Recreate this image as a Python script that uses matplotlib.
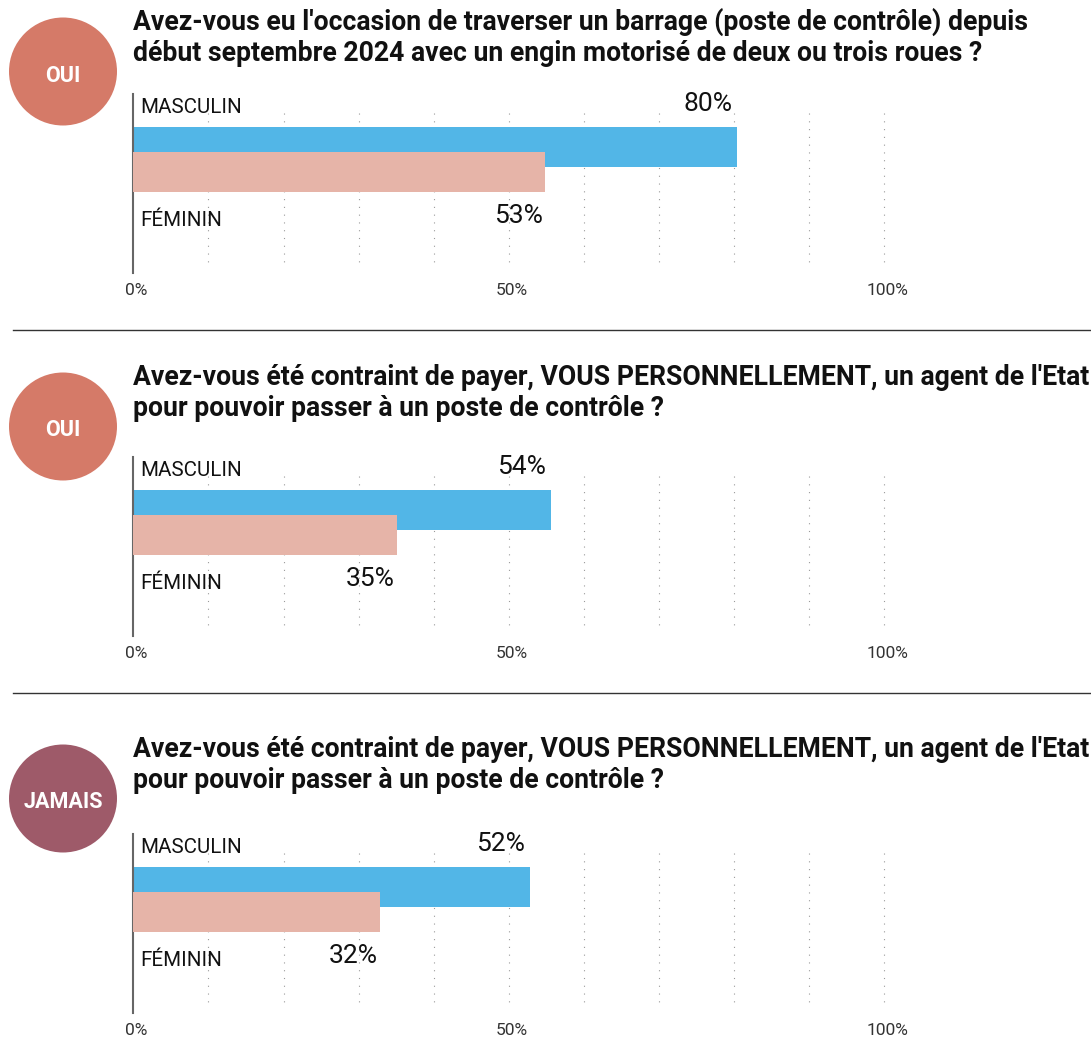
import matplotlib.pyplot as plt
from matplotlib.patches import Circle

# data
titles = [
    "Avez-vous eu l'occasion de traverser un barrage (poste de contrôle) depuis\n"
    "début septembre 2024 avec un engin motorisé de deux ou trois roues ?",
    "Avez-vous été contraint de payer, VOUS PERSONNELLEMENT, un agent de l'Etat\n"
    "pour pouvoir passer à un poste de contrôle ?",
    "Avez-vous été contraint de payer, VOUS PERSONNELLEMENT, un agent de l'Etat\n"
    "pour pouvoir passer à un poste de contrôle ?",
]
badges = ['OUI', 'OUI', 'JAMAIS']
masculin = [80.4, 55.6, 52.8]      # bar lengths as drawn (%)
feminin = [54.8, 35.1, 32.9]
masculin_labels = ['80%', '54%', '52%']
feminin_labels = ['53%', '35%', '32%']
groups = ['MASCULIN', 'FÉMININ']
ticks = [0, 50, 100]
tick_labels = ['0%', '50%', '100%']

blue = '#52B6E7'
pink = '#E6B4A8'
badge_colors = {'OUI': '#D57A68', 'JAMAIS': '#9E5A69'}

W, H = 1091, 1038
fig = plt.figure(figsize=(W / 100, H / 100), dpi=100)
plt.rcParams['font.family'] = ['Roboto', 'DejaVu Sans']

# background axes in pixel units for badges, titles and separators
bg = fig.add_axes([0, 0, 1, 1])
bg.set_xlim(0, W)
bg.set_ylim(H, 0)
bg.axis('off')

head_off = [0, 355, 727]
bar_off = [0, 363, 740]

# fit title font size to the width of the first line
probe = bg.text(133, 30, titles[0].split('\n')[0], fontsize=16, fontweight='bold')
fig.canvas.draw()
w = probe.get_window_extent().width
probe.remove()
title_size = 16 * 898 / w

for sep in [330, 693]:
    bg.plot([13, W], [sep, sep], color='#333333', lw=1)

x0_px, x1_px = 133.4, 884.0
for i in range(3):
    ho = head_off[i]
    bo = bar_off[i]

    # badge
    bg.add_patch(Circle((63, 71.5 + ho), 54, color=badge_colors[badges[i]], lw=0))
    bg.text(63, 81.5 + ho, badges[i], color='white', fontsize=15.5, fontweight='bold',
            ha='center', va='baseline')

    # title
    line1, line2 = titles[i].split('\n')
    bg.text(133, 30 + ho, line1, fontsize=title_size, fontweight='bold',
            color='#111111', va='baseline')
    bg.text(133, 61 + ho, line2, fontsize=title_size, fontweight='bold',
            color='#111111', va='baseline')

    # bar panel
    top_px, bot_px = 94 + bo, 273 + bo
    ax = fig.add_axes([x0_px / W, 1 - bot_px / H, (x1_px - x0_px) / W, (bot_px - top_px) / H])
    ax.set_xlim(0, 100)
    ax.set_ylim(5.04, -2.12)
    for s in ['top', 'right', 'bottom']:
        ax.spines[s].set_visible(False)
    ax.spines['left'].set_color('#666666')
    ax.spines['left'].set_linewidth(1.5)
    ax.set_xticks([])
    ax.set_yticks([])
    ax.patch.set_alpha(0)

    ax.vlines(range(10, 101, 10), -1.36, 4.84, color='#9a9a9a', lw=0.8,
              linestyles=(0, (1, 6)), zorder=1, clip_on=False)

    ax.barh(0, masculin[i], height=1.6, color=blue, zorder=2)
    ax.barh(1, feminin[i], height=1.6, color=pink, zorder=3)

    ax.text(0.9, -1.36, groups[0], fontsize=14.8, color='#111111', va='baseline', zorder=4)
    ax.text(0.9, 3.16, groups[1], fontsize=14.8, color='#111111', va='baseline', zorder=4)

    ax.text(masculin[i] - 0.6, -1.44, masculin_labels[i], fontsize=19, color='#111111',
            ha='right', va='baseline')
    ax.text(feminin[i] - 0.3, 3.04, feminin_labels[i], fontsize=19, color='#111111',
            ha='right', va='baseline')

    for t, lab in zip(ticks, tick_labels):
        ax.text(t + 0.4, 5.92, lab, fontsize=12.5, color='#333333', ha='center',
                va='baseline', clip_on=False)

fig.savefig('out.png', dpi=100)
